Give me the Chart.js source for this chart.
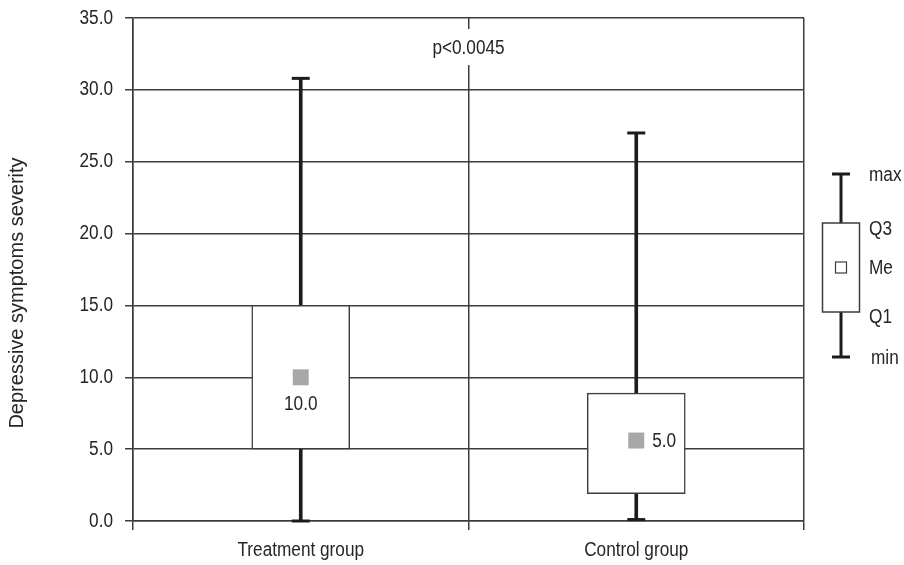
<!DOCTYPE html>
<html>
<head>
<meta charset="utf-8">
<title>Depressive symptoms severity</title>
<script src="https://cdn.jsdelivr.net/npm/chart.js"></script>
<style>
  html, body { margin: 0; padding: 0; background: #fff; }
  #wrap { width: 904px; height: 565px; }
</style>
</head>
<body>
<div id="wrap"><canvas id="myChart" width="904" height="565"></canvas></div>
<script>
// values
const groups = ['Treatment group', 'Control group'];
const minValues = [0.0, 0.1];
const q1Values = [5.0, 1.9];
const medianValues = [10.0, 5.6];
const q3Values = [15.0, 8.9];
const maxValues = [30.8, 27.0];
const medianLabels = ['10.0', '5.0'];
const medianLabelSide = ['below', 'right'];
const yTicks = [0, 5, 10, 15, 20, 25, 30, 35];
const pValueText = 'p<0.0045';
const yTitle = 'Depressive symptoms severity';
const keyLabels = ['max', 'Q3', 'Me', 'Q1', 'min'];

const FONT = "'Liberation Sans', Arial, sans-serif";
const FS = 20;
const SQUEEZE = 0.86; // no narrow font installed, so squeeze the text a bit
const TEXT = '#262626';
const LINE = '#3c3c3c';
const DARK = '#1c1c1c';

function narrowText(ctx, txt, x, y, align) {
    ctx.save();
    ctx.translate(x, y);
    ctx.scale(SQUEEZE, 1);
    ctx.textAlign = align;
    ctx.textBaseline = 'middle';
    ctx.fillText(txt, 0, 0);
    ctx.restore();
}

// texts + the little key on the right
const extras = {
    id: 'extras',
    afterDraw(chart) {
        const ctx = chart.ctx;
        const area = chart.chartArea;
        const xs = chart.scales.x;
        const ys = chart.scales.y;
        ctx.save();
        ctx.font = FS + 'px ' + FONT;
        ctx.fillStyle = TEXT;

        // tick labels
        ys.ticks.forEach(t => {
            narrowText(ctx, t.value.toFixed(1), area.left - 20, ys.getPixelForValue(t.value), 'right');
        });
        xs.getLabels().forEach((lab, i) => {
            narrowText(ctx, lab, xs.getPixelForValue(i), area.bottom + 29, 'center');
        });

        // median values
        medianLabels.forEach((txt, i) => {
            const px = xs.getPixelForValue(i);
            const py = ys.getPixelForValue(medianValues[i]);
            if (medianLabelSide[i] === 'below') {
                narrowText(ctx, txt, px, py + 27, 'center');
            } else {
                narrowText(ctx, txt, px + 16, py + 1, 'left');
            }
        });

        // p value, on a white patch over the middle divider
        const midX = (xs.getPixelForValue(0) + xs.getPixelForValue(1)) / 2;
        const pY = area.top + 30;
        const w = ctx.measureText(pValueText).width * SQUEEZE;
        ctx.fillStyle = '#fff';
        ctx.fillRect(midX - w / 2 - 3, pY - 19, w + 6, 36);
        ctx.fillStyle = TEXT;
        narrowText(ctx, pValueText, midX, pY, 'center');

        // y title
        ctx.save();
        ctx.translate(17, 293);
        ctx.rotate(-Math.PI / 2);
        ctx.font = '20px ' + FONT;
        ctx.textAlign = 'center';
        ctx.textBaseline = 'middle';
        ctx.fillText(yTitle, 0, 0);
        ctx.restore();

        // key
        const kx = 841;
        const keyY = [174, 223, 267.5, 312, 357];
        ctx.strokeStyle = DARK;
        ctx.lineWidth = 3;
        ctx.beginPath();
        ctx.moveTo(kx, keyY[0]); ctx.lineTo(kx, keyY[1]);
        ctx.moveTo(kx, keyY[3]); ctx.lineTo(kx, keyY[4]);
        ctx.moveTo(kx - 9, keyY[0]); ctx.lineTo(kx + 9, keyY[0]);
        ctx.moveTo(kx - 9, keyY[4]); ctx.lineTo(kx + 9, keyY[4]);
        ctx.stroke();
        ctx.lineWidth = 1.5;
        ctx.strokeStyle = LINE;
        ctx.fillStyle = '#fff';
        ctx.fillRect(822.5, keyY[1], 37, keyY[3] - keyY[1]);
        ctx.strokeRect(822.5, keyY[1], 37, keyY[3] - keyY[1]);
        ctx.lineWidth = 1.2;
        ctx.strokeRect(835.5, keyY[2] - 5.5, 11, 11);

        ctx.fillStyle = TEXT;
        const labelY = [175, 229, 268, 317, 358];
        keyLabels.forEach((t, i) => {
            narrowText(ctx, t, i === 4 ? 871 : 869, labelY[i], 'left');
        });
        ctx.restore();
    }
};

const ctx = document.getElementById('myChart').getContext('2d');
new Chart(ctx, {
    data: {
        labels: groups,
        datasets: [
            {
                type: 'bar',
                label: 'whisker',
                data: groups.map((g, i) => [minValues[i], maxValues[i]]),
                backgroundColor: DARK,
                borderWidth: 0,
                barThickness: 3,
                grouped: false,
                order: 3
            },
            {
                type: 'bar',
                label: 'box',
                data: groups.map((g, i) => [q1Values[i], q3Values[i]]),
                backgroundColor: '#fff',
                borderColor: LINE,
                borderWidth: 1.5,
                borderSkipped: false,
                barThickness: 98,
                grouped: false,
                order: 2
            },
            {
                type: 'line',
                label: 'max',
                data: maxValues,
                showLine: false,
                pointStyle: 'line',
                pointRadius: 9,
                pointBorderWidth: 3,
                borderColor: DARK,
                clip: false,
                order: 1
            },
            {
                type: 'line',
                label: 'min',
                data: minValues,
                showLine: false,
                pointStyle: 'line',
                pointRadius: 9,
                pointBorderWidth: 3,
                borderColor: DARK,
                clip: false,
                order: 1
            },
            {
                type: 'line',
                label: 'median',
                data: medianValues,
                showLine: false,
                pointStyle: 'rect',
                pointRadius: 11.3,
                pointBorderWidth: 0,
                pointBackgroundColor: '#a8a8aa',
                borderColor: '#a8a8aa',
                clip: false,
                order: 0
            }
        ]
    },
    options: {
        responsive: false,
        animation: false,
        events: [],
        layout: { padding: { top: 18, right: 100, left: 0, bottom: 0 } },
        plugins: {
            legend: { display: false },
            tooltip: { enabled: false },
            title: { display: false }
        },
        scales: {
            x: {
                type: 'category',
                offset: true,
                grid: {
                    offset: true,
                    color: LINE,
                    lineWidth: 1.5,
                    tickLength: 9,
                    drawOnChartArea: true
                },
                border: { display: true, color: LINE, width: 1.5 },
                ticks: { display: false },
                afterFit(scale) { scale.height = 44; }
            },
            y: {
                min: 0,
                max: 35,
                afterBuildTicks(scale) {
                    scale.ticks = yTicks.map(v => ({ value: v }));
                },
                grid: {
                    color: LINE,
                    lineWidth: 1.5,
                    tickLength: 8
                },
                border: { display: true, color: LINE, width: 1.5 },
                ticks: { display: false },
                afterFit(scale) { scale.width = 133; }
            }
        }
    },
    plugins: [extras]
});
</script>
</body>
</html>
